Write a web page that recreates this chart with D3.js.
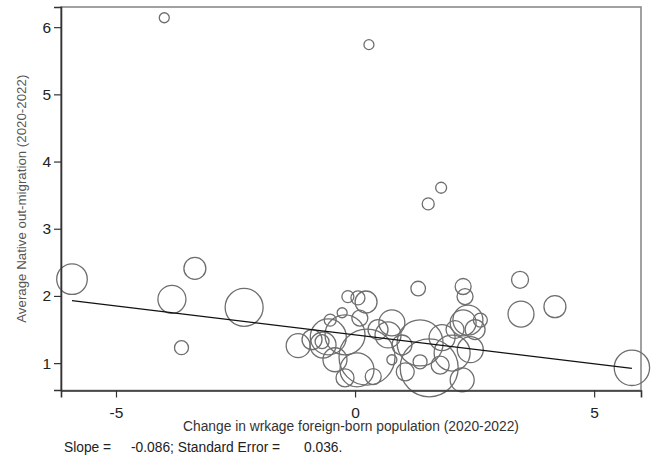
<!DOCTYPE html>
<html>
<head>
<meta charset="utf-8">
<script src="https://cdn.jsdelivr.net/npm/d3@7"></script>
<style>
  html, body { margin: 0; padding: 0; background: #fff; }
  svg { display: block; }
  text { font-family: "Liberation Sans", Arial, sans-serif; }
</style>
</head>
<body>
<script>
// Change in working-age foreign-born population vs. average native out-migration,
// one circle per area, circle area proportional to the area weight.
const changeForeignBorn = [
  -3.99, 0.29, 1.80, 1.53, -5.92, -3.35, -3.83, -3.63, -2.32, -1.19, 1.32, 3.45, 3.47, 4.18, 5.79,
  -0.15, 0.23, 0.06, -0.27, -0.56, -0.67, -0.69, -0.21, 0.25, 0.04, 0.38, 0.77, 0.69, 0.77,
  1.36, 1.55, 1.36, 1.82, 2.03, 2.24, 2.26, 2.30, 2.36, 2.26, 2.62, 2.41, -0.90, -0.21,
  0.48, -0.42, 0.98, 2.51, 1.78, 0.10, -0.52, 1.05, 2.09
];
const nativeOutMigration = [
  6.14, 5.74, 3.61, 3.37, 2.25, 2.41, 1.95, 1.23, 1.83, 1.26, 2.11, 2.24, 1.73, 1.84, 0.93,
  1.99, 1.91, 1.97, 1.75, 1.39, 1.27, 1.32, 1.42, 1.09, 0.90, 0.80, 1.60, 1.42, 1.05,
  1.30, 0.93, 1.02, 1.38, 1.15, 0.75, 2.14, 1.99, 1.64, 1.60, 1.64, 1.20, 1.35, 0.78,
  1.50, 1.05, 1.27, 1.50, 0.97, 1.67, 1.64, 0.87, 1.50
];
const areaWeight = [
  25, 25, 30, 36, 234, 121, 196, 49, 361, 144, 53, 72, 169, 121, 313,
  36, 121, 49, 25, 324, 169, 49, 400, 784, 289, 64, 169, 169, 25,
  529, 841, 49, 169, 324, 144, 64, 64, 225, 169, 49, 169, 100, 81,
  100, 144, 100, 100, 81, 64, 36, 81, 81
];

// Weighted fit reported in the note
const fitSlope = -0.086;
const fitStdErr = 0.036;
const fitIntercept = 1.42;

const xTicks = [-5, 0, 5];
const yTicks = [1, 2, 3, 4, 5, 6];

const W = 651, H = 460;
const plot = { left: 61, right: 641, top: 7, bottom: 390.5 };

const svg = d3.select("body").append("svg")
  .attr("width", W).attr("height", H);

const x = d3.scaleLinear().domain([-6.15, 5.98]).range([plot.left, plot.right]);
const y = d3.scaleLinear().domain([0.60, 6.30]).range([390, plot.top]);
const r = d3.scaleSqrt().domain([0, 1000]).range([0, Math.sqrt(1000)]);

const points = changeForeignBorn.map((v, i) => ({
  x: v, y: nativeOutMigration[i], w: areaWeight[i]
}));

// plot region box
svg.append("rect")
  .attr("x", plot.left).attr("y", plot.top)
  .attr("width", plot.right - plot.left).attr("height", plot.bottom - plot.top)
  .attr("fill", "none").attr("stroke", "#8a8a8a").attr("stroke-width", 1.6);

// circles, larger first so small ones stay visible
svg.append("g")
  .selectAll("circle")
  .data(points.slice().sort((a, b) => b.w - a.w))
  .join("circle")
  .attr("cx", d => x(d.x))
  .attr("cy", d => y(d.y))
  .attr("r", d => r(d.w))
  .attr("fill", "none")
  .attr("stroke", "#6e6e6e")
  .attr("stroke-width", 1.3);

// fitted line across the data range
const xExt = d3.extent(changeForeignBorn);
svg.append("line")
  .attr("x1", x(xExt[0])).attr("y1", y(fitIntercept + fitSlope * xExt[0]))
  .attr("x2", x(xExt[1])).attr("y2", y(fitIntercept + fitSlope * xExt[1]))
  .attr("stroke", "#111").attr("stroke-width", 1.2);

// axes
const yAxis = d3.axisLeft(y).tickValues(yTicks).tickSize(7).tickPadding(3).tickFormat(d3.format("d"));
const xAxis = d3.axisBottom(x).tickValues(xTicks).tickSize(7).tickPadding(9).tickFormat(d => d < 0 ? "-" + Math.abs(d) : d);

const gy = svg.append("g").attr("transform", `translate(${plot.left},0)`).call(yAxis);
const gx = svg.append("g").attr("transform", `translate(0,${plot.bottom})`).call(xAxis);

[gx, gy].forEach(g => {
  g.select(".domain").attr("stroke", "#333").attr("stroke-width", 1.6);
  g.selectAll(".tick line").attr("stroke", "#333").attr("stroke-width", 1.2);
  g.selectAll(".tick text")
    .attr("fill", "#222")
    .style("font-size", "15.5px")
    .style("font-family", "'Liberation Sans', Arial, sans-serif");
});

// axis titles
svg.append("text")
  .attr("transform", `translate(26,${(plot.top + plot.bottom) / 2}) rotate(-90)`)
  .attr("text-anchor", "middle")
  .attr("fill", "#555")
  .style("font-size", "13.3px")
  .text("Average Native out-migration (2020-2022)");

svg.append("text")
  .attr("x", 183)
  .attr("y", 431)
  .attr("fill", "#333")
  .style("font-size", "13.8px")
  .text("Change in wrkage foreign-born population (2020-2022)");

// note with the fit statistics
const note = svg.append("text")
  .attr("y", 451.5)
  .attr("fill", "#222")
  .style("font-size", "13.8px");
note.append("tspan").attr("x", 64).text("Slope =");
note.append("tspan").attr("x", 131).text(fitSlope.toFixed(3) + "; Standard Error =");
note.append("tspan").attr("x", 304).text(fitStdErr.toFixed(3) + ".");
</script>
</body>
</html>
